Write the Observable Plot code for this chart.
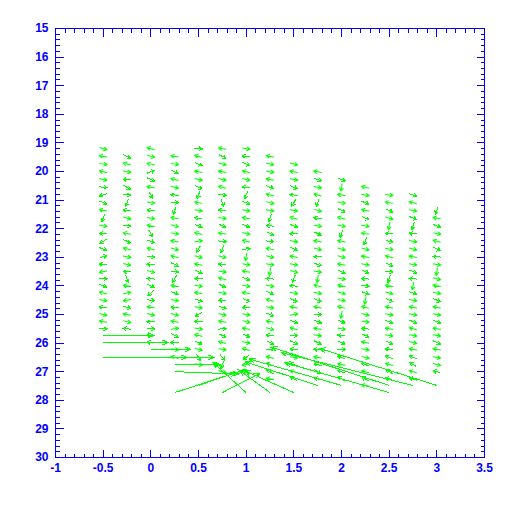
<!DOCTYPE html>
<html><head><meta charset="utf-8">
<script src="https://cdn.jsdelivr.net/npm/d3@7"></script>
<script src="https://cdn.jsdelivr.net/npm/@observablehq/plot@0.6"></script>
<style>body{margin:0;background:#fff} svg{display:block}</style>
</head><body><div id="chart"></div>
<script>
// grid columns (x) and rows (y)
const xCols = [-0.5, -0.25, 0, 0.25, 0.5, 0.75, 1, 1.25, 1.5, 1.75, 2, 2.25, 2.5, 2.75, 3];
const rowY = [19.2, 19.47, 19.74, 20.01, 20.28, 20.55, 20.82, 21.09, 21.36, 21.63, 21.9, 22.17, 22.44, 22.71, 22.98, 23.25, 23.5, 23.75, 24.0, 24.25, 24.5, 24.75, 25.0, 25.25, 25.5, 25.73, 25.98, 26.22, 26.5, 26.75, 27.0, 27.25, 27.48, 27.73];
// first row index of each column
const colStart = [0, 1, 0, 1, 0, 0, 0, 1, 2, 3, 4, 5, 6, 6, 8];
// direction (degrees clockwise from up) of the small vectors, per column, top to bottom
const colAngles = [
  [105, 280, 100, 285, 105, 95, 250, 115, 280, 200, 100, 270, 240, 110, 70, 275, 260, 90, 115, 285, 100, 275, 105, 280, 90],
  [115, 285, 100, 270, 120, 90, 200, 275, 105, 95, 280, 115, 285, 100, 105, 270, 160, 280, 80, 260, 110, 280, 105, 275],
  [285, 105, 280, 70, 115, 280, 150, 100, 275, 100, 280, 150, 110, 285, 95, 270, 105, 275, 115, 230, 95, 280, 105, 270, 90, 270, 275],
  [280, 100, 115, 285, 105, 275, 85, 200, 280, 105, 100, 280, 105, 285, 115, 95, 210, 280, 110, 100, 275, 105, 280, 80, 115, 270, 100, 285],
  [95, 285, 115, 280, 105, 115, 200, 280, 100, 275, 110, 285, 80, 210, 105, 280, 115, 270, 100, 280, 110, 100, 240, 275, 100, 285, 115, 105, 150, 100],
  [280, 115, 105, 280, 105, 285, 95, 160, 275, 100, 115, 280, 95, 200, 105, 275, 100, 285, 115, 100, 270, 110, 105, 280, 85, 115, 285, 100, 140, 200, 105],
  [100, 275, 115, 285, 105, 275, 200, 110, 100, 280, 115, 105, 285, 85, 190, 100, 280, 110, 100, 280, 115, 270, 100, 105, 280, 115, 100, 285, 230, 260, 300],
  [280, 105, 100, 280, 110, 285, 105, 100, 200, 275, 115, 95, 280, 105, 100, 190, 275, 100, 115, 285, 100, 110, 280, 105, 275, 115, 85, 285, 290, 300, 280],
  [105, 280, 100, 115, 275, 210, 100, 285, 110, 270, 100, 115, 280, 100, 105, 200, 275, 100, 115, 280, 80, 110, 285, 95, 115, 275, 100, 290, 285, 300],
  [280, 110, 100, 285, 200, 105, 275, 100, 115, 280, 105, 270, 110, 100, 190, 285, 100, 115, 280, 95, 110, 280, 100, 115, 275, 280, 290, 120, 290],
  [110, 190, 280, 100, 115, 285, 100, 200, 280, 105, 105, 280, 115, 100, 280, 105, 100, 285, 190, 110, 100, 275, 115, 95, 290, 280, 290, 300],
  [285, 100, 110, 280, 115, 100, 280, 200, 105, 280, 100, 115, 275, 95, 110, 190, 285, 105, 100, 275, 115, 280, 100, 105, 290, 285, 300, 280],
  [100, 280, 115, 105, 190, 275, 110, 100, 285, 115, 95, 200, 280, 105, 115, 280, 100, 110, 280, 100, 115, 275, 290, 285, 300, 290],
  [110, 285, 100, 115, 200, 275, 100, 105, 280, 100, 115, 275, 190, 110, 100, 280, 100, 115, 285, 100, 105, 280, 290, 300, 285, 290],
  [200, 280, 110, 100, 285, 115, 275, 100, 190, 105, 280, 100, 115, 280, 100, 110, 280, 100, 115, 280, 100, 105, 290]
];
// large vectors near the bottom
const longX = [-0.5, -0.5, -0.5, -0.25, 0, 0.25, 0.25, 0.25, 0.5, 0.75, 1.0, 1.25, 1.5, 1.75, 2.0, 2.5, 2.5, 2.75, 3.0];
const longY = [25.73, 25.98, 26.5, 26.5, 26.22, 26.75, 27.0, 27.73, 27.48, 27.73, 27.73, 27.73, 27.73, 27.48, 27.48, 27.48, 27.73, 27.48, 27.48];
const longAngle = [90, 90, 90, 90, 90, 90, 92, 72, 71, 63, -48, -54, -66, -72, -74, -72, -74, -76, -72.5];
const longLen = [51, 65, 111, 60, 40, 46, 64, 72, 40, 42, 45, 37, 54, 76, 96, 124, 109, 136, 123];

// axes
const xMajor = [-1, -0.5, 0, 0.5, 1, 1.5, 2, 2.5, 3, 3.5];
const xLabels = ["-1", "-0.5", "0", "0.5", "1", "1.5", "2", "2.5", "3", "3.5"];
const yMajor = [15, 16, 17, 18, 19, 20, 21, 22, 23, 24, 25, 26, 27, 28, 29, 30];
const yLabels = ["15", "16", "17", "18", "19", "20", "21", "22", "23", "24", "25", "26", "27", "28", "29", "30"];
const xMinor = d3.range(-1, 3.5001, 0.1);
const yMinor = d3.range(15, 30.001, 0.2);

const smallData = [];
xCols.forEach((x, i) => colAngles[i].forEach((a, j) => smallData.push({x, y: rowY[colStart[i] + j], a})));
const longData = longX.map((x, i) => ({x, y: longY[i], a: longAngle[i], len: longLen[i]}));

const headShape = (h, w) => ({draw(ctx, l) {
  ctx.moveTo(0, 0); ctx.lineTo(0, -l);
  ctx.moveTo(-w, h - l); ctx.lineTo(0, -l); ctx.lineTo(w, h - l);
}});
const lineShape = {draw(ctx, l) { ctx.moveTo(0, 0); ctx.lineTo(0, -l); }};
const tick = (data, ch, anchor, rotate, len) => Plot.vector(data, {[ch]: d => d, frameAnchor: anchor, rotate, length: len, anchor: "start", shape: lineShape, stroke: "#0000ff", strokeWidth: 1, strokeLinecap: "butt"});

const chart = Plot.plot({
  width: 512, height: 512,
  marginLeft: 55, marginRight: 28, marginTop: 28, marginBottom: 55,
  style: {fontFamily: "'Liberation Sans', Arial, sans-serif", fontSize: "12px", fontWeight: "bold", background: "white", color: "#0000ff", shapeRendering: "crispEdges"},
  x: {domain: [-1, 3.5]},
  y: {domain: [15, 30], reverse: true},
  length: {domain: [0, 200], range: [0, 200]},
  marks: [
    Plot.vector(smallData, {x: "x", y: "y", rotate: "a", length: 8, anchor: "middle", shape: headShape(3.5, 2), stroke: "#00ff00", strokeWidth: 1, strokeLinecap: "butt"}),
    Plot.vector(longData, {x: "x", y: "y", rotate: "a", length: "len", anchor: "start", shape: headShape(6, 2.5), stroke: "#00ff00", strokeWidth: 1, strokeLinecap: "butt"}),
    tick(yMinor, "y", "left", 90, 4), tick(yMajor, "y", "left", 90, 8),
    tick(yMinor, "y", "right", -90, 4), tick(yMajor, "y", "right", -90, 8),
    tick(xMinor, "x", "bottom", 0, 4), tick(xMajor, "x", "bottom", 0, 8),
    tick(xMinor, "x", "top", 180, 4), tick(xMajor, "x", "top", 180, 8),
    Plot.frame({stroke: "#0000ff"}),
    Plot.axisX(xMajor, {anchor: "bottom", tickSize: 0, tickPadding: 6, tickFormat: d => xLabels[xMajor.indexOf(d)], label: null, fill: "#0000ff"}),
    Plot.axisY(yMajor, {anchor: "left", tickSize: 0, tickPadding: 7, tickFormat: d => yLabels[yMajor.indexOf(d)], label: null, fill: "#0000ff"})
  ]
});
document.getElementById("chart").appendChild(chart);
</script>
</body></html>
